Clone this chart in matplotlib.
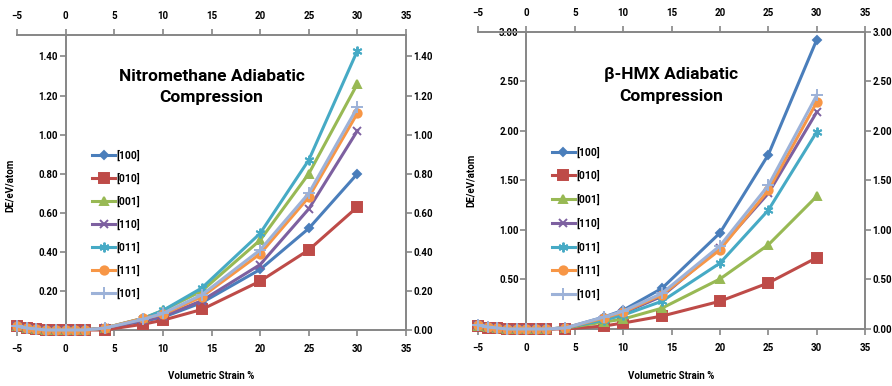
import matplotlib
matplotlib.use("Agg")
import matplotlib.pyplot as plt
import numpy as np

# Volumetric strain (%) sampled in both runs
strain = [-5, -4, -3, -2, -1, 0, 1, 2, 4, 8, 10, 14, 20, 25, 30]
directions = ["[100]", "[010]", "[001]", "[110]", "[011]", "[111]", "[101]"]

# Nitromethane energy change (eV/atom) per compression direction
nm_100 = [0.02, 0.01, 0.005, 0, 0, 0, 0, 0, 0.01, 0.045, 0.065, 0.14, 0.31, 0.52, 0.80]
nm_010 = [0.02, 0.01, 0.005, 0, 0, 0, 0, 0, 0.00, 0.03, 0.05, 0.105, 0.25, 0.41, 0.63]
nm_001 = [0.02, 0.01, 0.005, 0, 0, 0, 0, 0, 0.01, 0.06, 0.10, 0.20, 0.46, 0.80, 1.26]
nm_110 = [0.02, 0.01, 0.005, 0, 0, 0, 0, 0, 0.01, 0.05, 0.07, 0.15, 0.335, 0.62, 1.02]
nm_011 = [0.02, 0.01, 0.005, 0, 0, 0, 0, 0, 0.01, 0.06, 0.10, 0.215, 0.495, 0.87, 1.43]
nm_111 = [0.02, 0.01, 0.005, 0, 0, 0, 0, 0, 0.01, 0.06, 0.08, 0.17, 0.39, 0.68, 1.11]
nm_101 = [0.02, 0.01, 0.005, 0, 0, 0, 0, 0, 0.01, 0.055, 0.085, 0.18, 0.41, 0.70, 1.14]

# beta-HMX energy change (eV/atom) per compression direction
hmx_100 = [0.04, 0.02, 0.01, 0, 0, 0, 0, 0, 0.01, 0.12, 0.19, 0.41, 0.97, 1.76, 2.92]
hmx_010 = [0.03, 0.01, 0.005, 0, 0, 0, 0, 0, 0.00, 0.03, 0.06, 0.13, 0.28, 0.465, 0.72]
hmx_001 = [0.03, 0.02, 0.01, 0, 0, 0, 0, 0, 0.01, 0.07, 0.10, 0.21, 0.505, 0.85, 1.34]
hmx_110 = [0.04, 0.02, 0.01, 0, 0, 0, 0, 0, 0.01, 0.10, 0.16, 0.33, 0.82, 1.37, 2.19]
hmx_011 = [0.04, 0.02, 0.01, 0, 0, 0, 0, 0, 0.01, 0.09, 0.14, 0.28, 0.665, 1.20, 1.99]
hmx_111 = [0.04, 0.02, 0.01, 0, 0, 0, 0, 0, 0.01, 0.11, 0.17, 0.345, 0.80, 1.40, 2.29]
hmx_101 = [0.04, 0.02, 0.01, 0, 0, 0, 0, 0, 0.01, 0.12, 0.18, 0.36, 0.84, 1.45, 2.36]

nm_series = [nm_100, nm_010, nm_001, nm_110, nm_011, nm_111, nm_101]
hmx_series = [hmx_100, hmx_010, hmx_001, hmx_110, hmx_011, hmx_111, hmx_101]

colors = ["#4A7EBB", "#BE4B48", "#98B954", "#7D60A0", "#46AAC5", "#F79646", "#9DB2D8"]
markers = ["D", "s", "^", "x", (6, 2, 0), "o", "+"]
msizes = [4.5, 7.5, 6, 6, 7, 6, 8]

FONT = ["Liberation Sans Narrow", "Roboto", "DejaVu Sans"]
plt.rcParams["font.family"] = FONT
plt.rcParams["font.weight"] = "bold"
AXIS_GREY = "#868686"


def draw_panel(ax, series, ymax, yticks, title, title_y, legend_anchor, lspace):
    for vals, name, c, m, ms in zip(series, directions, colors, markers, msizes):
        ax.plot(strain, vals, color=c, lw=2.2, marker=m, markersize=ms,
                markeredgewidth=1.4, label=name, clip_on=False, zorder=3)

    ax.set_xlim(-5, 35)
    ax.set_ylim(0, ymax)
    ax.set_xticks(range(-5, 36, 5))
    ax.set_yticks(yticks)
    ax.set_yticklabels(["%.2f" % v for v in yticks])

    # value axis crosses at zero strain, secondary axes on top and right
    ax.spines["left"].set_position(("data", 0))
    for sp in ax.spines.values():
        sp.set_color(AXIS_GREY)
        sp.set_linewidth(1.4)

    ax.xaxis.set_ticks_position("both")
    ax.yaxis.set_ticks_position("both")
    ax.tick_params(axis="both", direction="out", length=4, width=1.2,
                   color=AXIS_GREY, labelsize=7)
    ax.tick_params(axis="x", labeltop=True, labelbottom=True, pad=6)
    ax.tick_params(axis="y", labelleft=True, labelright=True, pad=1.5)

    ax.text(0.5, title_y, title, transform=ax.transAxes, ha="center", va="center",
            fontsize=12.5, fontweight="bold", linespacing=1.55)

    ax.legend(loc="upper left", bbox_to_anchor=legend_anchor, frameon=False,
              fontsize=7.5, handlelength=2.2, handletextpad=0.1,
              labelspacing=lspace, borderpad=0, borderaxespad=0)


fig = plt.figure(figsize=(8.92, 3.86), dpi=100)
ax1 = fig.add_axes([0.0191, 0.1451, 0.4361, 0.7642])
ax2 = fig.add_axes([0.5359, 0.1477, 0.4339, 0.7694])

draw_panel(ax1, nm_series, 1.51, np.arange(0, 1.41, 0.2),
           "Nitromethane Adiabatic\nCompression", 0.824, (0.193, 0.61), 1.12)
draw_panel(ax2, hmx_series, 3.0, np.arange(0, 3.01, 0.5),
           "\u03b2-HMX Adiabatic\nCompression", 0.82, (0.191, 0.615), 1.2)

fig.text(211 / 892, 1 - 376 / 386, "Volumetric Strain %", ha="center",
         va="center", fontsize=7, fontweight="bold")
fig.text(671 / 892, 1 - 376 / 386, "Volumetric Strain %", ha="center",
         va="center", fontsize=7, fontweight="bold")
fig.text(10 / 892, 1 - 185 / 386, "DE/eV/atom", rotation=90, ha="center",
         va="center", fontsize=7, fontweight="bold")
fig.text(471 / 892, 1 - 180 / 386, "DE/eV/atom", rotation=90, ha="center",
         va="center", fontsize=7, fontweight="bold")

fig.savefig("out.png", dpi=100, facecolor="white")
